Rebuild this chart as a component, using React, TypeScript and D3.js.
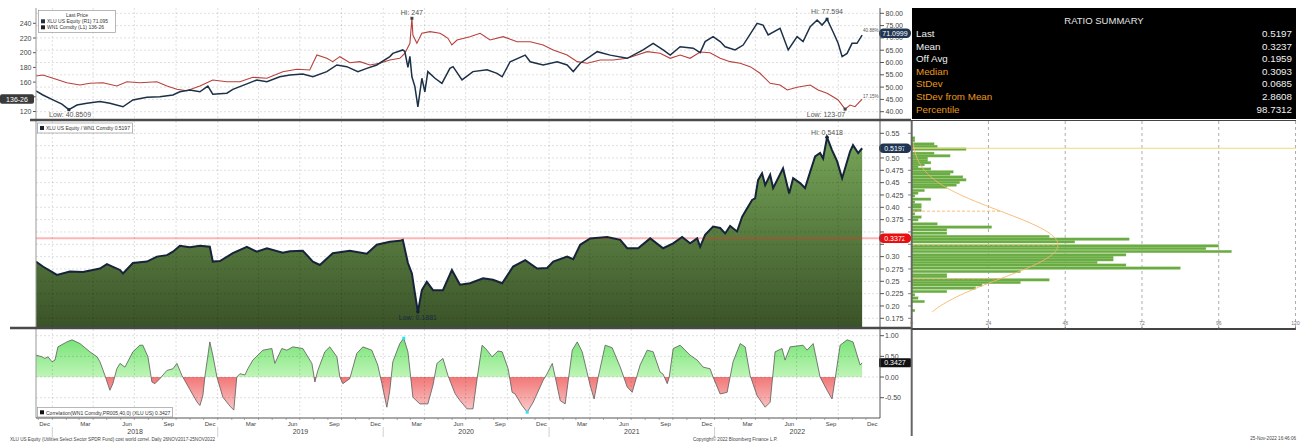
import React from "react";
import * as d3 from "d3";

// ---------------- data (time in decimal years) ----------------
const xluSeries: [number, number][] = [
  [2017.901,48.5],[2017.943,46.8],[2018.004,44.8],[2018.058,43.1],[2018.100,40.85],[2018.149,42.7],[2018.209,43.4],[2018.288,44.1],[2018.348,43.4],[2018.427,42.0],
  [2018.487,44.8],[2018.572,45.9],[2018.650,46.1],[2018.729,46.8],[2018.771,48.1],[2018.831,48.8],[2018.892,48.1],[2018.940,50.4],[2018.970,47.1],[2019.055,47.5],
  [2019.091,49.1],[2019.176,51.3],[2019.236,52.9],[2019.297,52.2],[2019.375,54.2],[2019.436,54.9],[2019.514,55.3],[2019.575,54.2],[2019.659,56.3],[2019.720,59.0],
  [2019.780,58.3],[2019.847,56.3],[2019.901,57.6],[2019.961,59.0],[2020.040,62.4],[2020.058,63.7],[2020.118,65.1],[2020.130,64.5],[2020.149,58.0],[2020.161,62.5],
  [2020.173,54.2],[2020.191,50.2],[2020.209,42.0],[2020.233,53.6],[2020.251,48.1],[2020.269,56.3],[2020.312,53.6],[2020.354,51.5],[2020.402,57.6],[2020.421,58.3],
  [2020.475,52.9],[2020.541,56.3],[2020.626,57.0],[2020.686,55.6],[2020.717,54.2],[2020.765,60.3],[2020.856,63.0],[2020.886,60.3],[2020.964,59.0],[2021.049,60.3],
  [2021.109,59.0],[2021.146,56.3],[2021.188,59.7],[2021.291,64.4],[2021.369,63.0],[2021.472,61.7],[2021.568,65.1],[2021.629,67.8],[2021.689,65.1],[2021.732,63.0],
  [2021.792,66.4],[2021.871,65.8],[2021.913,64.0],[2021.943,68.5],[2021.991,70.5],[2022.034,68.5],[2022.064,66.4],[2022.124,65.1],[2022.173,67.1],[2022.257,75.9],
  [2022.293,75.2],[2022.324,71.2],[2022.396,73.9],[2022.445,65.1],[2022.499,70.5],[2022.535,68.5],[2022.578,74.6],[2022.620,77.3],[2022.650,75.2],[2022.680,77.594],
  [2022.716,72.5],[2022.747,67.8],[2022.771,62.4],[2022.801,63.7],[2022.831,67.8],[2022.861,67.8],[2022.892,71.095]
];

const wn1Series: [number, number][] = [
  [2017.901,168.3],[2017.943,169.7],[2018.004,165.2],[2018.088,159.2],[2018.167,156.1],[2018.227,158.4],[2018.306,159.2],[2018.390,154.7],[2018.451,160.5],[2018.529,159.2],
  [2018.632,160.5],[2018.693,154.7],[2018.753,150.2],[2018.813,148.3],[2018.892,154.7],[2018.970,162.9],[2019.055,160.5],[2019.134,160.5],[2019.212,166.5],[2019.297,165.2],
  [2019.393,174.1],[2019.478,177.4],[2019.556,176.5],[2019.599,196.9],[2019.659,192.4],[2019.695,187.8],[2019.738,194.6],[2019.798,186.4],[2019.859,187.8],[2019.919,183.3],
  [2019.979,185.6],[2020.040,190.1],[2020.100,192.4],[2020.130,199.0],[2020.161,212.8],[2020.173,246.8],[2020.179,224.1],[2020.203,213.0],[2020.233,226.4],[2020.282,228.6],
  [2020.342,226.4],[2020.360,224.1],[2020.390,219.6],[2020.414,210.5],[2020.445,217.3],[2020.523,221.8],[2020.584,226.4],[2020.644,217.3],[2020.723,221.8],[2020.807,215.0],
  [2020.886,215.0],[2020.964,210.5],[2021.025,203.7],[2021.109,196.9],[2021.170,187.8],[2021.230,185.6],[2021.309,190.1],[2021.387,190.1],[2021.472,192.4],[2021.532,196.9],
  [2021.593,201.4],[2021.671,199.2],[2021.732,192.4],[2021.792,196.9],[2021.852,192.4],[2021.913,201.0],[2021.973,200.0],[2022.034,192.4],[2022.094,187.8],[2022.155,185.6],
  [2022.215,181.0],[2022.275,172.0],[2022.336,158.4],[2022.396,156.1],[2022.439,149.3],[2022.499,152.9],[2022.578,156.1],[2022.626,149.3],[2022.680,144.8],[2022.716,140.1],
  [2022.747,135.6],[2022.789,123.22],[2022.819,128.8],[2022.849,126.5],[2022.892,136.81]
];

const ratioSeries: [number, number][] = [
  [2017.901,0.290],[2017.943,0.280],[2018.028,0.263],[2018.106,0.270],[2018.185,0.269],[2018.288,0.276],[2018.330,0.285],[2018.409,0.273],[2018.427,0.266],[2018.487,0.287],
  [2018.572,0.290],[2018.632,0.300],[2018.693,0.303],[2018.729,0.310],[2018.771,0.322],[2018.831,0.319],[2018.892,0.322],[2018.952,0.320],[2018.970,0.290],[2019.013,0.291],
  [2019.091,0.307],[2019.176,0.320],[2019.236,0.310],[2019.297,0.317],[2019.393,0.308],[2019.436,0.311],[2019.514,0.312],[2019.575,0.290],[2019.617,0.283],[2019.695,0.307],
  [2019.798,0.312],[2019.901,0.306],[2019.961,0.324],[2020.040,0.330],[2020.100,0.332],[2020.118,0.334],[2020.149,0.287],[2020.173,0.266],[2020.191,0.226],[2020.209,0.1881],
  [2020.233,0.232],[2020.263,0.249],[2020.300,0.232],[2020.360,0.232],[2020.414,0.273],[2020.463,0.243],[2020.523,0.246],[2020.602,0.256],[2020.662,0.253],[2020.717,0.246],
  [2020.783,0.280],[2020.856,0.293],[2020.928,0.276],[2020.988,0.277],[2021.025,0.290],[2021.109,0.300],[2021.146,0.295],[2021.188,0.324],[2021.248,0.337],[2021.351,0.340],
  [2021.430,0.334],[2021.472,0.317],[2021.538,0.317],[2021.611,0.337],[2021.689,0.317],[2021.750,0.327],[2021.804,0.340],[2021.852,0.327],[2021.895,0.337],[2021.913,0.320],
  [2021.943,0.344],[2021.991,0.361],[2022.034,0.358],[2022.064,0.347],[2022.094,0.362],[2022.136,0.351],[2022.167,0.381],[2022.197,0.398],[2022.227,0.415],[2022.245,0.418],
  [2022.263,0.455],[2022.287,0.469],[2022.306,0.445],[2022.336,0.466],[2022.354,0.439],[2022.384,0.459],[2022.414,0.479],[2022.451,0.428],[2022.475,0.459],[2022.517,0.449],
  [2022.547,0.439],[2022.578,0.472],[2022.608,0.503],[2022.638,0.510],[2022.656,0.499],[2022.680,0.5418],[2022.710,0.516],[2022.741,0.493],[2022.771,0.459],[2022.789,0.479],
  [2022.819,0.513],[2022.837,0.526],[2022.868,0.510],[2022.892,0.5197]
];

const corrSeries: [number, number][] = [
  [2017.901,0.53],[2017.937,0.49],[2017.955,0.45],[2017.974,0.49],[2017.998,0.37],[2018.016,0.41],[2018.034,0.73],[2018.088,0.85],[2018.119,0.90],[2018.167,0.81],
  [2018.227,0.61],[2018.270,0.49],[2018.288,0.37],[2018.318,0.04],[2018.348,-0.32],[2018.366,-0.16],[2018.390,0.20],[2018.409,0.33],[2018.439,0.24],[2018.487,0.61],
  [2018.529,0.77],[2018.547,0.77],[2018.578,0.49],[2018.602,-0.12],[2018.620,-0.16],[2018.650,-0.04],[2018.693,0.16],[2018.729,0.20],[2018.753,0.33],[2018.783,0.04],
  [2018.831,-0.30],[2018.874,-0.60],[2018.892,-0.69],[2018.910,-0.45],[2018.922,0.0],[2018.952,0.85],[2018.970,0.53],[2018.995,0.0],[2019.031,-0.49],[2019.073,-0.70],
  [2019.097,-0.80],[2019.115,0.0],[2019.134,0.08],[2019.164,0.05],[2019.182,0.20],[2019.212,0.41],[2019.273,0.65],[2019.327,0.69],[2019.345,0.33],[2019.387,0.69],
  [2019.418,0.65],[2019.454,0.73],[2019.514,0.69],[2019.569,0.33],[2019.587,-0.12],[2019.605,0.16],[2019.647,0.61],[2019.677,0.73],[2019.720,0.49],[2019.738,0.0],
  [2019.756,-0.16],[2019.798,-0.04],[2019.840,0.57],[2019.877,0.73],[2019.931,0.65],[2019.967,0.29],[2019.992,-0.16],[2020.022,-0.73],[2020.040,-0.32],[2020.058,0.37],
  [2020.100,0.81],[2020.124,0.94],[2020.149,0.61],[2020.179,-0.49],[2020.221,-0.65],[2020.269,-0.65],[2020.300,-0.20],[2020.324,0.33],[2020.360,0.45],[2020.390,0.04],
  [2020.433,-0.40],[2020.463,-0.57],[2020.505,-0.77],[2020.541,-0.77],[2020.566,-0.04],[2020.596,0.77],[2020.626,0.65],[2020.656,0.49],[2020.692,0.63],[2020.717,0.61],
  [2020.753,0.20],[2020.777,-0.37],[2020.795,-0.41],[2020.837,-0.69],[2020.868,-0.85],[2020.904,-0.61],[2020.964,-0.08],[2020.988,0.08],[2021.019,0.33],[2021.037,0.0],
  [2021.067,-0.57],[2021.097,-0.65],[2021.140,0.65],[2021.170,0.85],[2021.200,0.61],[2021.248,-0.20],[2021.272,-0.53],[2021.297,0.0],[2021.339,0.77],[2021.381,0.71],
  [2021.430,0.24],[2021.472,-0.24],[2021.502,-0.37],[2021.550,0.29],[2021.593,0.65],[2021.629,0.61],[2021.671,0.12],[2021.689,0.07],[2021.714,-0.16],[2021.726,0.0],
  [2021.750,0.69],[2021.792,0.77],[2021.852,0.53],[2021.895,0.41],[2021.931,0.24],[2021.973,0.20],[2021.991,0.0],[2022.034,-0.41],[2022.076,-0.37],[2022.112,0.37],
  [2022.155,0.81],[2022.185,0.73],[2022.215,0.04],[2022.257,-0.45],[2022.306,-0.73],[2022.336,-0.61],[2022.366,0.61],[2022.408,0.69],[2022.426,0.41],[2022.457,0.73],
  [2022.535,0.77],[2022.559,0.65],[2022.596,0.81],[2022.638,0.0],[2022.680,-0.32],[2022.710,-0.53],[2022.729,-0.04],[2022.759,0.77],[2022.801,0.90],[2022.837,0.85],
  [2022.880,0.29],[2022.892,0.3427]
];

const histLevel = [0.540,0.535,0.528,0.523,0.5175,0.509,0.504,0.499,0.494,0.490,0.486,0.481,0.477,0.4715,0.467,0.461,0.4553,0.450,0.4446,0.4405,
  0.4337,0.4283,0.4229,0.416,0.410,0.4047,0.400,0.3932,0.3864,0.3797,0.3743,0.366,0.3594,0.354,0.347,0.3404,0.335,0.3297,0.3215,0.316,
  0.310,0.3033,0.298,0.2932,0.2877,0.2824,0.2763,0.2695,0.2627,0.2593,0.2526,0.2472,0.2425,0.2358,0.2289,0.2222,0.2155,0.2086,0.1904];
const histCount = [1,1,7,8,17,7,12,5,5,6,4,2,6,13,12,16,17,15,14,11,
  4,2,1,6,1,3,3,3,1,3,2,8,25,11,11,43,68,51,96,92,
  100,67,63,63,58,67,84,34,11,11,43,34,22,20,11,1,2,4,1];

const wn1Ticks = [120, 140, 160, 180, 200, 220, 240];
const xluTicks = [40, 45, 50, 55, 60, 65, 70, 75, 80];
const ratioTicks = [0.175, 0.2, 0.225, 0.25, 0.275, 0.3, 0.325, 0.35, 0.375, 0.4, 0.425, 0.45, 0.475, 0.5, 0.525, 0.55];
const corrTicks = [-0.5, 0, 0.5, 1];
const histTicks = [0, 24, 48, 72, 96, 120];
const labelMonths = [11, 2, 5, 8];
const yearLabels = [2018, 2019, 2020, 2021, 2022];

const summaryLabels = ["Last", "Mean", "Off Avg", "Median", "StDev", "StDev from Mean", "Percentile"];
const summaryValues = ["0.5197", "0.3237", "0.1959", "0.3093", "0.0685", "2.8608", "98.7312"];
const summaryHighlight = [false, false, false, true, true, true, true];

const xluLast = "71.0999";
const wn1Last = "136-26";
const wn1LastValue = 136.81;
const ratioLast = 0.5197;
const ratioRefLine = 0.3372;
const ratioMean = 0.3237;
const ratioStd = 0.0685;
const histBinWidth = 0.006;
const corrLast = 0.3427;

// ---------------- helpers ----------------
function toDate(t: number): Date {
  const y = Math.floor(t);
  const a = new Date(y, 0, 1).getTime();
  const b = new Date(y + 1, 0, 1).getTime();
  return new Date(a + (t - y) * (b - a));
}

const FONT = "'Liberation Sans', Arial, sans-serif";

export default function App() {
  const x = d3.scaleTime().domain([new Date(2017, 10, 26), new Date(2023, 0, 1)]).range([36, 880]);
  const yL = d3.scaleLinear().domain([120, 240]).range([111.5, 23.3]);
  const yR = d3.scaleLinear().domain([40, 80]).range([111.7, 13.3]);
  const yM = d3.scaleLinear().domain([0.175, 0.55]).range([318.3, 133.3]);
  const yC = d3.scaleLinear().domain([-0.5, 1]).range([397.7, 335.7]);
  const xH = d3.scaleLinear().domain([0, 120]).range([911.7, 1295.5]);

  const px = (d: [number, number]) => x(toDate(d[0]));
  const xluLine = d3.line<[number, number]>().x(px).y((d) => yR(d[1]))(xluSeries) || "";
  const wn1Line = d3.line<[number, number]>().x(px).y((d) => yL(d[1]))(wn1Series) || "";
  const ratioLine = d3.line<[number, number]>().x(px).y((d) => yM(d[1]))(ratioSeries) || "";
  const ratioArea = d3.area<[number, number]>().x(px).y0(328).y1((d) => yM(d[1]))(ratioSeries) || "";
  const corrLine = d3.line<[number, number]>().x(px).y((d) => yC(d[1]))(corrSeries) || "";
  const corrArea = d3.area<[number, number]>().x(px).y0(yC(0)).y1((d) => yC(d[1]))(corrSeries) || "";

  const quarters = d3.timeMonth.every(3)!.range(new Date(2018, 0, 1), new Date(2022, 11, 31));
  const months = d3.timeMonth.range(new Date(2017, 11, 1), new Date(2023, 0, 1));
  const monthLabelDates = months.filter((d) => labelMonths.includes(d.getMonth()));
  const fmtMonth = d3.timeFormat("%b");
  const [d0, d1] = x.domain();

  // normal curve from histogram stats
  const N = d3.sum(histCount);
  const peak = (N * histBinWidth) / (ratioStd * Math.sqrt(2 * Math.PI));
  const pdf = (v: number) => peak * Math.exp(-0.5 * Math.pow((v - ratioMean) / ratioStd, 2));
  const curvePts: [number, number][] = d3.range(0.188, 0.531, 0.002).map((v) => [xH(pdf(v)), yM(v)]);
  const curvePath = d3.line()(curvePts) || "";

  const hiX = (t: number) => x(toDate(t));
  const grid = "rgba(0,0,0,0.16)";
  const tickFmtRatio = (v: number) => (Math.abs(v * 100 - Math.round(v * 100)) < 1e-6 ? v.toFixed(2) : v.toFixed(3));

  const corrZero = yC(0);
  const maxCorr = corrSeries.reduce((a, b) => (b[1] > a[1] ? b : a));
  const minCorr = corrSeries.reduce((a, b) => (b[1] < a[1] ? b : a));

  const tagYwn1 = yL(wn1LastValue);
  const tagYratio = [yM(ratioLast), yM(ratioRefLine)];

  return (
    <div style={{ position: "absolute", left: 0, top: 0, width: 1306, height: 443, background: "#fff" }}>
      <svg width={1306} height={443} style={{ display: "block", fontFamily: FONT }}>
        <defs>
          <clipPath id="c1"><rect x={36} y={8} width={844} height={111} /></clipPath>
          <clipPath id="c2"><rect x={36} y={121} width={844} height={206} /></clipPath>
          <clipPath id="cPos"><rect x={36} y={329} width={844} height={corrZero - 329} /></clipPath>
          <clipPath id="cNeg"><rect x={36} y={corrZero} width={844} height={418 - corrZero} /></clipPath>
          <linearGradient id="gRatio" gradientUnits="userSpaceOnUse" x1={0} y1={125} x2={0} y2={328}>
            <stop offset="0" stopColor="#7aab5b" />
            <stop offset="1" stopColor="#3a5228" />
          </linearGradient>
          <linearGradient id="gPos" gradientUnits="userSpaceOnUse" x1={0} y1={yC(1)} x2={0} y2={corrZero}>
            <stop offset="0" stopColor="#72e272" />
            <stop offset="1" stopColor="#bff5b7" />
          </linearGradient>
          <linearGradient id="gNeg" gradientUnits="userSpaceOnUse" x1={0} y1={corrZero} x2={0} y2={yC(-1)}>
            <stop offset="0" stopColor="#f27777" />
            <stop offset="1" stopColor="#fddada" />
          </linearGradient>
        </defs>

        {/* ---------- upper panel ---------- */}
        <g>
          {xluTicks.map((v) => (
            <line key={"gr" + v} x1={36} x2={880} y1={yR(v)} y2={yR(v)} stroke={grid} strokeDasharray="2,2" strokeWidth={0.8} />
          ))}
          {quarters.map((d, i) => (
            <line key={"q1" + i} x1={x(d)} x2={x(d)} y1={8} y2={119} stroke={grid} strokeDasharray="2,2" strokeWidth={0.8} />
          ))}
          <g clipPath="url(#c1)">
            <path d={wn1Line} fill="none" stroke="#b8403a" strokeWidth={1.1} />
            <path d={xluLine} fill="none" stroke="#1c3048" strokeWidth={1.5} />
          </g>
          {wn1Ticks.map((v) => (
            <g key={"lt" + v}>
              <line x1={33} x2={36} y1={yL(v)} y2={yL(v)} stroke="#555" />
              {Math.abs(yL(v) - tagYwn1) > 7 && (
                <text x={31.5} y={yL(v) + 2.5} fontSize={7} fill="#444" textAnchor="end">{v}</text>
              )}
            </g>
          ))}
          {xluTicks.map((v) => (
            <g key={"rt" + v}>
              <line x1={880} x2={884} y1={yR(v)} y2={yR(v)} stroke="#555" />
              <text x={885.5} y={yR(v) + 2.5} fontSize={7} fill="#444">{v.toFixed(2)}</text>
            </g>
          ))}
          {/* legend */}
          <rect x={38.5} y={10.5} width={77} height={22} fill="#fff" stroke="#999" strokeWidth={0.7} />
          <text x={77} y={16.5} fontSize={5} fill="#333" textAnchor="middle">Last Price</text>
          <rect x={41} y={19.3} width={4} height={4} fill="#1c3048" />
          <text x={47} y={23} fontSize={5} fill="#333">XLU US Equity  (R1)  71.095</text>
          <rect x={41} y={25.3} width={4} height={4} fill="#222" />
          <text x={47} y={29} fontSize={5} fill="#333">WN1 Comdty  (L1)   136-26</text>
          {/* annotations */}
          <rect x={hiX(2020.173) - 1.5} y={yL(246.8) - 1.5} width={3} height={3} fill="#444" />
          <text x={hiX(2020.173)} y={15} fontSize={7} fill="#555" textAnchor="middle">Hi: 247</text>
          <rect x={hiX(2018.1) - 1.5} y={yR(40.85) - 1.5} width={3} height={3} fill="#1c3048" />
          <text x={49} y={117} fontSize={7} fill="#555">Low: 40.8509</text>
          <rect x={hiX(2022.68) - 1.5} y={yR(77.594) - 1.5} width={3} height={3} fill="#1c3048" />
          <text x={hiX(2022.68)} y={14} fontSize={7} fill="#555" textAnchor="middle">Hi: 77.594</text>
          <rect x={hiX(2022.789) - 1.5} y={yL(123.22) - 1.5} width={3} height={3} fill="#444" />
          <text x={826} y={117} fontSize={7} fill="#555" textAnchor="middle">Low: 123-07</text>
          <text x={863} y={32} fontSize={4.6} fill="#555">40.88%</text>
          <text x={863} y={98} fontSize={4.6} fill="#555">17.15%</text>
          {/* tags */}
          <rect x={879} y={28.5} width={32} height={9.5} rx={4.5} fill="#1f3552" />
          <text x={895} y={36} fontSize={7} fill="#fff" textAnchor="middle">{xluLast}</text>
          <rect x={0} y={tagYwn1 - 4.8} width={34} height={9.5} rx={2} fill="#3a3a3a" />
          <text x={17} y={tagYwn1 + 2.5} fontSize={7} fill="#fff" textAnchor="middle">{wn1Last}</text>
        </g>

        {/* ---------- middle ratio panel ---------- */}
        <g>
          <path d={ratioArea} fill="url(#gRatio)" clipPath="url(#c2)" />
          {ratioTicks.map((v) => (
            <line key={"gm" + v} x1={36} x2={880} y1={yM(v)} y2={yM(v)} stroke={grid} strokeDasharray="2,2" strokeWidth={0.8} />
          ))}
          {quarters.map((d, i) => (
            <line key={"q2" + i} x1={x(d)} x2={x(d)} y1={121} y2={327} stroke={grid} strokeDasharray="2,2" strokeWidth={0.8} />
          ))}
          <line x1={36} x2={880} y1={yM(ratioRefLine)} y2={yM(ratioRefLine)} stroke="#ff2a2a" strokeOpacity={0.35} strokeWidth={2} />
          <path d={ratioLine} fill="none" stroke="#16233a" strokeWidth={2} clipPath="url(#c2)" />
          {ratioTicks.map((v) => (
            <g key={"mt" + v}>
              <line x1={880} x2={884} y1={yM(v)} y2={yM(v)} stroke="#555" />
              {tagYratio.every((ty) => Math.abs(yM(v) - ty) > 7) && (
                <text x={885.5} y={yM(v) + 2.6} fontSize={7.2} fill="#444">{tickFmtRatio(v)}</text>
              )}
            </g>
          ))}
          <rect x={37.5} y={123} width={95} height={10} fill="#fff" stroke="#999" strokeWidth={0.7} />
          <rect x={40} y={126} width={4} height={4} fill="#16233a" />
          <text x={46} y={130.3} fontSize={5} fill="#333">XLU US Equity / WN1 Comdty 0.5197</text>
          <circle cx={hiX(2022.68)} cy={yM(0.5418)} r={1.8} fill="#16233a" />
          <text x={hiX(2022.68)} y={135} fontSize={7} fill="#555" textAnchor="middle">Hi: 0.5418</text>
          <circle cx={hiX(2020.209)} cy={yM(0.1881)} r={1.8} fill="#16233a" />
          <text x={hiX(2020.209)} y={319.5} fontSize={7} fill="#1a2940" textAnchor="middle">Low: 0.1881</text>
          <rect x={879} y={yM(ratioLast) - 4.8} width={32} height={9.5} rx={4.5} fill="#1f3552" />
          <text x={895} y={yM(ratioLast) + 2.5} fontSize={7} fill="#fff" textAnchor="middle">{ratioLast.toFixed(4)}</text>
          <rect x={879} y={yM(ratioRefLine) - 4.8} width={32} height={9.5} rx={4.5} fill="#e8100f" />
          <text x={895} y={yM(ratioRefLine) + 2.5} fontSize={7} fill="#fff" textAnchor="middle">{ratioRefLine.toFixed(4)}</text>
        </g>

        {/* ---------- correlation panel ---------- */}
        <g>
          <path d={corrArea} fill="url(#gPos)" clipPath="url(#cPos)" />
          <path d={corrArea} fill="url(#gNeg)" clipPath="url(#cNeg)" />
          {corrTicks.map((v) => (
            <line key={"gc" + v} x1={36} x2={880} y1={yC(v)} y2={yC(v)} stroke={grid} strokeDasharray="2,2" strokeWidth={0.8} />
          ))}
          {quarters.map((d, i) => (
            <line key={"q3" + i} x1={x(d)} x2={x(d)} y1={329} y2={418} stroke={grid} strokeDasharray="2,2" strokeWidth={0.8} />
          ))}
          <path d={corrLine} fill="none" stroke="#5a5a5a" strokeWidth={0.8} />
          <rect x={px(maxCorr) - 1.5} y={yC(maxCorr[1]) - 1.5} width={3} height={3} fill="#22e5f5" />
          <rect x={px(minCorr) - 1.5} y={yC(minCorr[1]) - 1.5} width={3} height={3} fill="#22e5f5" />
          {corrTicks.map((v) => (
            <g key={"ct" + v}>
              <line x1={880} x2={884} y1={yC(v)} y2={yC(v)} stroke="#555" />
              <text x={885} y={yC(v) + 2.5} fontSize={7} fill="#444">{v.toFixed(2)}</text>
            </g>
          ))}
          <rect x={37.5} y={407.5} width={135} height={9.5} fill="#fff" stroke="#999" strokeWidth={0.7} />
          <rect x={40} y={410.3} width={4} height={4} fill="#111" />
          <text x={46} y={414.5} fontSize={5} fill="#333">Correlation(WN1 Comdty,PR005,40,0) (XLU US) 0.3427</text>
          <rect x={879} y={yC(corrLast) - 4.5} width={32} height={9} rx={1} fill="#111" />
          <text x={895} y={yC(corrLast) + 2.5} fontSize={7} fill="#fff" textAnchor="middle">{corrLast.toFixed(4)}</text>
        </g>

        {/* ---------- axes & frames ---------- */}
        <line x1={36} x2={36} y1={8} y2={418} stroke="#999" strokeWidth={1} />
        <line x1={880} x2={880} y1={8} y2={418} stroke="#555" strokeWidth={1} />
        <line x1={30} x2={911} y1={120} y2={120} stroke="#4a4a4a" strokeWidth={2.5} />
        <line x1={10} x2={911} y1={328} y2={328} stroke="#4a4a4a" strokeWidth={2.5} />
        <line x1={36} x2={880} y1={418} y2={418} stroke="#555" strokeWidth={1} />
        {months.map((d, i) => (
          <line key={"mtk" + i} x1={x(d)} x2={x(d)} y1={418} y2={420} stroke="#777" strokeWidth={0.6} />
        ))}
        {monthLabelDates.map((d, i) => (
          <text key={"ml" + i} x={x(new Date(d.getFullYear(), d.getMonth(), 15))} y={425.5} fontSize={6} fill="#444" textAnchor="middle">
            {fmtMonth(d)}
          </text>
        ))}
        {yearLabels.map((yr) => {
          const a = Math.max(+new Date(yr, 0, 1), +d0);
          const b = Math.min(+new Date(yr + 1, 0, 1), +d1);
          return (
            <g key={"yr" + yr}>
              <line x1={x(new Date(yr, 0, 1))} x2={x(new Date(yr, 0, 1))} y1={427} y2={437} stroke="#bbb" strokeWidth={0.7} />
              <text x={x(new Date((a + b) / 2))} y={434} fontSize={7} fill="#444" textAnchor="middle">{yr}</text>
            </g>
          );
        })}
        <text x={10} y={440.5} fontSize={4.6} fill="#444">XLU US Equity (Utilities Select Sector SPDR Fund) cost world correl. Daily 26NOV2017-25NOV2022</text>
        <text x={693} y={440.5} fontSize={4.6} fill="#444">Copyright© 2022 Bloomberg Finance L.P.</text>
        <text x={1296} y={439.5} fontSize={4.6} fill="#444" textAnchor="end">25-Nov-2022 16:46:06</text>

        {/* ---------- right: summary ---------- */}
        <rect x={912} y={8} width={384} height={111} fill="#000" />
        <text x={1104} y={24} fontSize={9.5} fill="#e6e6e6" textAnchor="middle">RATIO SUMMARY</text>
        {summaryLabels.map((lab, i) => (
          <g key={"s" + i}>
            <text x={916} y={37 + i * 12.6} fontSize={9.8} fill={summaryHighlight[i] ? "#e8991c" : "#f0f0f0"}>{lab}</text>
            <text x={1292} y={37 + i * 12.6} fontSize={9.8} fill="#f0f0f0" textAnchor="end">{summaryValues[i]}</text>
          </g>
        ))}

        {/* ---------- right: histogram ---------- */}
        <g>
          {histTicks.slice(1).map((v) => (
            <line key={"hg" + v} x1={xH(v)} x2={xH(v)} y1={121} y2={328} stroke="#999" strokeDasharray="3,3" strokeWidth={0.8} />
          ))}
          {histLevel.map((lv, i) => (
            <rect key={"hb" + i} x={xH(0)} y={yM(lv + histBinWidth / 2)} width={xH(histCount[i]) - xH(0)}
              height={Math.max(0.5, yM(lv - histBinWidth / 2) - yM(lv + histBinWidth / 2) - 0.4)}
              fill="#6aab44" stroke="#8cc56a" strokeWidth={0.3} />
          ))}
          <line x1={912} x2={1296} y1={yM(ratioLast)} y2={yM(ratioLast)} stroke="#f3d77a" strokeWidth={1} />
          <path d={curvePath} fill="none" stroke="#f6b56a" strokeWidth={0.9} />
          {[ratioMean + ratioStd, ratioMean, ratioMean - ratioStd].map((v, i) => (
            <line key={"sd" + i} x1={912} x2={xH(pdf(v))} y1={yM(v)} y2={yM(v)} stroke="#f6b56a" strokeDasharray="3,2" strokeWidth={0.9} />
          ))}
          <line x1={911.7} x2={911.7} y1={120} y2={436} stroke="#666" strokeWidth={2} />
          {ratioTicks.map((v) => (
            <line key={"ht" + v} x1={908} x2={911} y1={yM(v)} y2={yM(v)} stroke="#666" strokeWidth={0.8} />
          ))}
          <line x1={911} x2={1296} y1={329} y2={329} stroke="#444" strokeWidth={2} />
          <line x1={911} x2={1296} y1={120.5} y2={120.5} stroke="#444" strokeWidth={1} />
          {histTicks.map((v) => (
            <g key={"hx" + v}>
              <line x1={xH(v)} x2={xH(v)} y1={327} y2={330} stroke="#666" strokeWidth={0.7} />
              <text x={xH(v)} y={325} fontSize={5} fill="#777" textAnchor="middle">{v}</text>
            </g>
          ))}
          <circle cx={907.5} cy={yM(ratioLast)} r={3.5} fill="#1f3552" />
          <circle cx={907.5} cy={yM(ratioRefLine)} r={3.5} fill="#e8100f" />
        </g>
      </svg>
    </div>
  );
}
